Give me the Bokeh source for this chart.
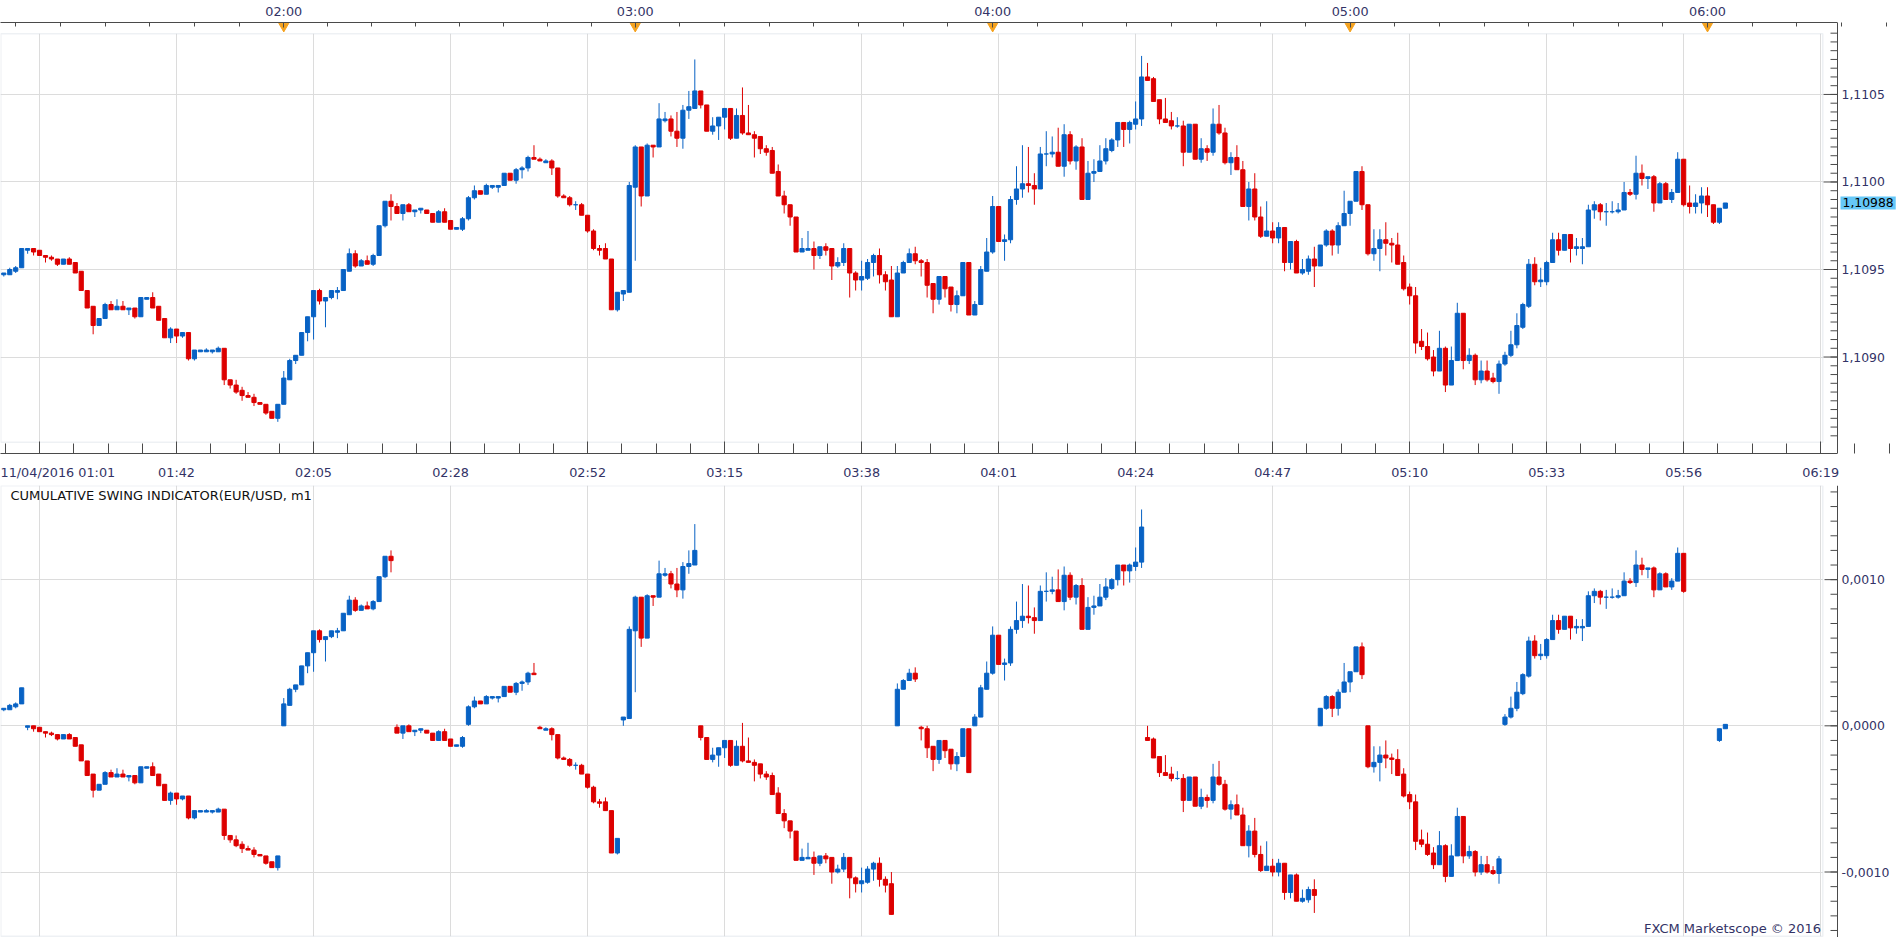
import numpy as np
from bokeh.plotting import figure
from bokeh.models import (ColumnDataSource, Range1d, LinearAxis, FixedTicker,
                          BoxAnnotation, Label, Span)
from bokeh.core.properties import value
from bokeh.layouts import column
from bokeh.embed import file_html
from bokeh.resources import INLINE

# ---------------- data (EUR/USD, m1 candles) ----------------
open_ = [
 1.10947, 1.10947, 1.10949, 1.10951, 1.10961, 1.10962, 1.10961, 1.10958, 1.10957, 1.10956,
 1.10953, 1.10956, 1.10954, 1.10949, 1.10938, 1.10929, 1.10918, 1.10922, 1.10930, 1.10927,
 1.10929, 1.10927, 1.10928, 1.10923, 1.10933, 1.10934, 1.10929, 1.10922, 1.10911, 1.10916,
 1.10912, 1.10914, 1.10899, 1.10903, 1.10903, 1.10903, 1.10903, 1.10905, 1.10887, 1.10884,
 1.10881, 1.10878, 1.10877, 1.10874, 1.10873, 1.10869, 1.10865, 1.10873, 1.10887, 1.10898,
 1.10901, 1.10914, 1.10923, 1.10938, 1.10932, 1.10934, 1.10937, 1.10938, 1.10949, 1.10959,
 1.10952, 1.10955, 1.10953, 1.10958, 1.10975, 1.10989, 1.10986, 1.10982, 1.10987, 1.10983,
 1.10984, 1.10984, 1.10982, 1.10977, 1.10983, 1.10978, 1.10973, 1.10973, 1.10979, 1.10991,
 1.10995, 1.10993, 1.10997, 1.10997, 1.10998, 1.11005, 1.11001, 1.11007, 1.11008, 1.11014,
 1.11013, 1.11011, 1.11012, 1.11008, 1.10992, 1.10991, 1.10987, 1.10987, 1.10981, 1.10972,
 1.10962, 1.10962, 1.10956, 1.10927, 1.10936, 1.10937, 1.10997, 1.11020, 1.10992, 1.11021,
 1.11020, 1.11035, 1.11036, 1.11029, 1.11025, 1.11041, 1.11042, 1.11052, 1.11044, 1.11029,
 1.11032, 1.11037, 1.11042, 1.11025, 1.11038, 1.11028, 1.11027, 1.11026, 1.11019, 1.11018,
 1.11006, 1.10992, 1.10987, 1.10980, 1.10960, 1.10961, 1.10962, 1.10958, 1.10963, 1.10962,
 1.10952, 1.10954, 1.10962, 1.10948, 1.10944, 1.10945, 1.10954, 1.10958, 1.10947, 1.10944,
 1.10923, 1.10948, 1.10954, 1.10959, 1.10955, 1.10954, 1.10942, 1.10933, 1.10946, 1.10940,
 1.10930, 1.10935, 1.10954, 1.10924, 1.10930, 1.10949, 1.10960, 1.10986, 1.10966, 1.10967,
 1.10990, 1.10996, 1.10999, 1.10998, 1.10996, 1.11016, 1.11016, 1.11017, 1.11009, 1.11027,
 1.11012, 1.11020, 1.10990, 1.11005, 1.11006, 1.11012, 1.11018, 1.11024, 1.11034, 1.11030,
 1.11033, 1.11036, 1.11060, 1.11059, 1.11047, 1.11036, 1.11035, 1.11032, 1.11032, 1.11017,
 1.11033, 1.11013, 1.11019, 1.11017, 1.11033, 1.11028, 1.11011, 1.11014, 1.11007, 1.10986,
 1.10996, 1.10980, 1.10969, 1.10972, 1.10968, 1.10974, 1.10954, 1.10966, 1.10948, 1.10949,
 1.10956, 1.10952, 1.10964, 1.10972, 1.10964, 1.10975, 1.10982, 1.10989, 1.11006, 1.10987,
 1.10959, 1.10962, 1.10967, 1.10965, 1.10964, 1.10954, 1.10940, 1.10935, 1.10909, 1.10906,
 1.10900, 1.10892, 1.10905, 1.10884, 1.10898, 1.10925, 1.10898, 1.10901, 1.10887, 1.10892,
 1.10888, 1.10886, 1.10896, 1.10901, 1.10907, 1.10917, 1.10929, 1.10953, 1.10943, 1.10943,
 1.10954, 1.10967, 1.10961, 1.10970, 1.10962, 1.10962, 1.10963, 1.10984, 1.10987, 1.10983,
 1.10983, 1.10983, 1.10984, 1.10994, 1.10993, 1.11005, 1.11002, 1.11003, 1.10988, 1.10999,
 1.10990, 1.10994, 1.11013, 1.10988, 1.10986, 1.10988, 1.10992, 1.10987, 1.10977, 1.10985,
]
high = [
 1.10948, 1.10951, 1.10952, 1.10962, 1.10962, 1.10962, 1.10961, 1.10958, 1.10958, 1.10956,
 1.10956, 1.10957, 1.10954, 1.10949, 1.10938, 1.10929, 1.10922, 1.10931, 1.10932, 1.10933,
 1.10932, 1.10928, 1.10928, 1.10934, 1.10934, 1.10937, 1.10929, 1.10922, 1.10917, 1.10916,
 1.10914, 1.10914, 1.10904, 1.10904, 1.10905, 1.10904, 1.10906, 1.10905, 1.10887, 1.10887,
 1.10883, 1.10880, 1.10879, 1.10874, 1.10873, 1.10869, 1.10873, 1.10892, 1.10899, 1.10901,
 1.10914, 1.10923, 1.10938, 1.10939, 1.10934, 1.10938, 1.10940, 1.10950, 1.10962, 1.10961,
 1.10956, 1.10958, 1.10959, 1.10975, 1.10989, 1.10993, 1.10988, 1.10987, 1.10988, 1.10984,
 1.10985, 1.10984, 1.10982, 1.10984, 1.10985, 1.10978, 1.10974, 1.10980, 1.10992, 1.10998,
 1.10995, 1.10999, 1.10998, 1.10998, 1.11005, 1.11005, 1.11008, 1.11009, 1.11015, 1.11021,
 1.11014, 1.11013, 1.11013, 1.11008, 1.10993, 1.10992, 1.10989, 1.10988, 1.10981, 1.10973,
 1.10964, 1.10965, 1.10956, 1.10937, 1.10938, 1.11000, 1.11021, 1.11020, 1.11022, 1.11021,
 1.11045, 1.11040, 1.11038, 1.11040, 1.11044, 1.11052, 1.11070, 1.11052, 1.11044, 1.11037,
 1.11037, 1.11042, 1.11042, 1.11042, 1.11054, 1.11044, 1.11029, 1.11026, 1.11021, 1.11020,
 1.11010, 1.10995, 1.10987, 1.10980, 1.10968, 1.10972, 1.10966, 1.10963, 1.10965, 1.10962,
 1.10957, 1.10965, 1.10962, 1.10949, 1.10955, 1.10956, 1.10959, 1.10962, 1.10949, 1.10952,
 1.10952, 1.10955, 1.10962, 1.10963, 1.10956, 1.10956, 1.10942, 1.10946, 1.10946, 1.10940,
 1.10938, 1.10954, 1.10954, 1.10932, 1.10952, 1.10968, 1.10992, 1.10986, 1.10970, 1.10992,
 1.11009, 1.11021, 1.11020, 1.11005, 1.11020, 1.11029, 1.11026, 1.11031, 1.11033, 1.11029,
 1.11021, 1.11025, 1.11012, 1.11013, 1.11021, 1.11025, 1.11025, 1.11034, 1.11034, 1.11035,
 1.11046, 1.11072, 1.11068, 1.11060, 1.11047, 1.11048, 1.11040, 1.11037, 1.11035, 1.11033,
 1.11033, 1.11025, 1.11021, 1.11042, 1.11044, 1.11031, 1.11017, 1.11021, 1.11012, 1.11000,
 1.11005, 1.10986, 1.10989, 1.10977, 1.10977, 1.10974, 1.10966, 1.10967, 1.10956, 1.10958,
 1.10963, 1.10964, 1.10973, 1.10973, 1.10977, 1.10995, 1.10989, 1.11006, 1.11009, 1.10987,
 1.10973, 1.10973, 1.10977, 1.10968, 1.10971, 1.10958, 1.10942, 1.10940, 1.10916, 1.10914,
 1.10904, 1.10915, 1.10906, 1.10906, 1.10931, 1.10925, 1.10905, 1.10902, 1.10898, 1.10898,
 1.10891, 1.10898, 1.10903, 1.10915, 1.10925, 1.10931, 1.10956, 1.10957, 1.10951, 1.10955,
 1.10971, 1.10971, 1.10970, 1.10970, 1.10968, 1.10968, 1.10987, 1.10989, 1.10988, 1.10988,
 1.10989, 1.10988, 1.11000, 1.10996, 1.11015, 1.11010, 1.11003, 1.11004, 1.11000, 1.11000,
 1.10996, 1.11017, 1.11013, 1.10998, 1.10993, 1.10997, 1.10997, 1.10987, 1.10985, 1.10988,
]
low = [
 1.10946, 1.10947, 1.10948, 1.10951, 1.10959, 1.10958, 1.10958, 1.10954, 1.10955, 1.10952,
 1.10953, 1.10953, 1.10948, 1.10938, 1.10928, 1.10913, 1.10918, 1.10922, 1.10927, 1.10927,
 1.10927, 1.10924, 1.10922, 1.10923, 1.10933, 1.10928, 1.10921, 1.10911, 1.10908, 1.10908,
 1.10911, 1.10898, 1.10898, 1.10903, 1.10903, 1.10902, 1.10903, 1.10884, 1.10882, 1.10879,
 1.10875, 1.10877, 1.10872, 1.10873, 1.10867, 1.10865, 1.10863, 1.10873, 1.10887, 1.10896,
 1.10901, 1.10909, 1.10910, 1.10930, 1.10917, 1.10933, 1.10933, 1.10938, 1.10949, 1.10951,
 1.10952, 1.10953, 1.10952, 1.10958, 1.10974, 1.10978, 1.10982, 1.10978, 1.10983, 1.10980,
 1.10982, 1.10982, 1.10977, 1.10977, 1.10977, 1.10973, 1.10973, 1.10972, 1.10978, 1.10990,
 1.10993, 1.10993, 1.10996, 1.10994, 1.10998, 1.11001, 1.10999, 1.11002, 1.11006, 1.11013,
 1.11012, 1.11011, 1.11004, 1.10991, 1.10991, 1.10986, 1.10984, 1.10981, 1.10971, 1.10961,
 1.10958, 1.10956, 1.10927, 1.10926, 1.10932, 1.10937, 1.10955, 1.10986, 1.10992, 1.11014,
 1.11020, 1.11034, 1.11026, 1.11020, 1.11019, 1.11036, 1.11042, 1.11042, 1.11029, 1.11027,
 1.11024, 1.11030, 1.11024, 1.11025, 1.11027, 1.11027, 1.11014, 1.11016, 1.11015, 1.11005,
 1.10992, 1.10982, 1.10975, 1.10960, 1.10960, 1.10961, 1.10950, 1.10956, 1.10958, 1.10944,
 1.10951, 1.10952, 1.10934, 1.10938, 1.10938, 1.10944, 1.10946, 1.10942, 1.10938, 1.10923,
 1.10923, 1.10948, 1.10954, 1.10953, 1.10946, 1.10934, 1.10925, 1.10930, 1.10934, 1.10926,
 1.10925, 1.10935, 1.10924, 1.10924, 1.10930, 1.10949, 1.10959, 1.10966, 1.10955, 1.10965,
 1.10987, 1.10991, 1.10994, 1.10987, 1.10996, 1.11009, 1.11014, 1.11009, 1.11003, 1.11010,
 1.11007, 1.10990, 1.10990, 1.11000, 1.11006, 1.11010, 1.11017, 1.11020, 1.11020, 1.11022,
 1.11030, 1.11032, 1.11058, 1.11046, 1.11033, 1.11034, 1.11030, 1.11031, 1.11009, 1.11017,
 1.11013, 1.11011, 1.11012, 1.11015, 1.11027, 1.11010, 1.11004, 1.11007, 1.10986, 1.10978,
 1.10978, 1.10968, 1.10969, 1.10965, 1.10965, 1.10949, 1.10950, 1.10948, 1.10947, 1.10947,
 1.10940, 1.10952, 1.10963, 1.10958, 1.10959, 1.10975, 1.10975, 1.10989, 1.10984, 1.10958,
 1.10955, 1.10949, 1.10958, 1.10954, 1.10953, 1.10938, 1.10930, 1.10902, 1.10904, 1.10898,
 1.10889, 1.10892, 1.10880, 1.10884, 1.10898, 1.10893, 1.10896, 1.10884, 1.10885, 1.10886,
 1.10885, 1.10879, 1.10895, 1.10900, 1.10905, 1.10916, 1.10928, 1.10941, 1.10940, 1.10941,
 1.10954, 1.10958, 1.10961, 1.10954, 1.10958, 1.10953, 1.10963, 1.10979, 1.10978, 1.10975,
 1.10982, 1.10982, 1.10984, 1.10992, 1.10990, 1.10998, 1.10996, 1.10983, 1.10988, 1.10990,
 1.10988, 1.10994, 1.10986, 1.10982, 1.10982, 1.10982, 1.10980, 1.10976, 1.10976, 1.10985,
]
close = [
 1.10948, 1.10950, 1.10951, 1.10962, 1.10962, 1.10960, 1.10958, 1.10957, 1.10956, 1.10953,
 1.10956, 1.10953, 1.10948, 1.10938, 1.10928, 1.10918, 1.10922, 1.10930, 1.10927, 1.10929,
 1.10927, 1.10928, 1.10923, 1.10934, 1.10934, 1.10928, 1.10921, 1.10911, 1.10916, 1.10912,
 1.10914, 1.10899, 1.10904, 1.10904, 1.10904, 1.10904, 1.10905, 1.10887, 1.10884, 1.10880,
 1.10878, 1.10877, 1.10874, 1.10873, 1.10868, 1.10865, 1.10873, 1.10888, 1.10898, 1.10901,
 1.10914, 1.10923, 1.10938, 1.10932, 1.10934, 1.10938, 1.10938, 1.10950, 1.10959, 1.10952,
 1.10955, 1.10953, 1.10958, 1.10975, 1.10989, 1.10986, 1.10982, 1.10987, 1.10983, 1.10984,
 1.10985, 1.10982, 1.10977, 1.10983, 1.10977, 1.10973, 1.10974, 1.10979, 1.10991, 1.10995,
 1.10993, 1.10998, 1.10998, 1.10998, 1.11005, 1.11001, 1.11007, 1.11008, 1.11014, 1.11013,
 1.11012, 1.11012, 1.11008, 1.10992, 1.10991, 1.10987, 1.10987, 1.10981, 1.10972, 1.10962,
 1.10961, 1.10956, 1.10927, 1.10937, 1.10938, 1.10998, 1.11020, 1.10992, 1.11021, 1.11020,
 1.11036, 1.11036, 1.11029, 1.11025, 1.11041, 1.11043, 1.11052, 1.11044, 1.11029, 1.11032,
 1.11037, 1.11042, 1.11025, 1.11038, 1.11028, 1.11027, 1.11025, 1.11019, 1.11017, 1.11005,
 1.10992, 1.10987, 1.10980, 1.10960, 1.10962, 1.10962, 1.10958, 1.10963, 1.10961, 1.10952,
 1.10954, 1.10962, 1.10948, 1.10944, 1.10946, 1.10954, 1.10958, 1.10947, 1.10943, 1.10923,
 1.10948, 1.10954, 1.10959, 1.10955, 1.10954, 1.10941, 1.10933, 1.10946, 1.10939, 1.10930,
 1.10935, 1.10954, 1.10924, 1.10930, 1.10950, 1.10960, 1.10986, 1.10966, 1.10967, 1.10990,
 1.10996, 1.10999, 1.10998, 1.10996, 1.11016, 1.11016, 1.11017, 1.11009, 1.11027, 1.11012,
 1.11020, 1.10990, 1.11005, 1.11006, 1.11012, 1.11019, 1.11024, 1.11034, 1.11030, 1.11034,
 1.11036, 1.11060, 1.11058, 1.11046, 1.11036, 1.11034, 1.11032, 1.11032, 1.11017, 1.11033,
 1.11013, 1.11019, 1.11017, 1.11033, 1.11028, 1.11011, 1.11014, 1.11007, 1.10986, 1.10996,
 1.10980, 1.10969, 1.10972, 1.10968, 1.10974, 1.10954, 1.10966, 1.10948, 1.10950, 1.10956,
 1.10952, 1.10964, 1.10972, 1.10964, 1.10975, 1.10982, 1.10989, 1.11006, 1.10987, 1.10959,
 1.10962, 1.10967, 1.10965, 1.10964, 1.10953, 1.10939, 1.10935, 1.10908, 1.10906, 1.10899,
 1.10892, 1.10905, 1.10884, 1.10898, 1.10925, 1.10898, 1.10901, 1.10887, 1.10892, 1.10887,
 1.10886, 1.10896, 1.10901, 1.10907, 1.10918, 1.10930, 1.10953, 1.10943, 1.10944, 1.10954,
 1.10967, 1.10961, 1.10970, 1.10962, 1.10963, 1.10963, 1.10984, 1.10987, 1.10983, 1.10983,
 1.10983, 1.10984, 1.10994, 1.10993, 1.11005, 1.11002, 1.11003, 1.10988, 1.10999, 1.10990,
 1.10994, 1.11013, 1.10987, 1.10986, 1.10988, 1.10992, 1.10987, 1.10977, 1.10985, 1.10988,
]

# Cumulative swing indicator: swing segments (first bar, last bar, reference level)
seg_start = [0, 4, 47, 66, 78, 90, 104, 117, 150, 154, 163, 192, 221, 229, 252, 288]
seg_end   = [3, 46, 65, 77, 89, 103, 116, 149, 153, 162, 191, 220, 228, 251, 282, 289]
seg_base  = [1.10936, 1.10962, 1.10873, 1.10987, 1.10978, 1.11014, 1.10932, 1.11052,
             1.10923, 1.10956, 1.10924, 1.11068, 1.10952, 1.10987, 1.10895, 1.10987]

bottom_labels = ["11/04/2016 01:01", "01:42", "02:05", "02:28", "02:52", "03:15", "03:38",
                 "04:01", "04:24", "04:47", "05:10", "05:33", "05:56", "06:19"]
bottom_label_pos = [6, 29, 52, 75, 98, 121, 144, 167, 190, 213, 236, 259, 282, 305]
hour_labels = ["02:00", "03:00", "04:00", "05:00", "06:00"]
hour_pos = [47, 106, 166, 226, 286]
price_ticks = [1.1090, 1.1095, 1.1100, 1.1105]
ind_ticks = [-0.0010, 0.0, 0.0010]
last_price = 1.10988
last_price_text = "1,10988"

# ---------------- styling ----------------
FONT = "DejaVu Sans"
TXT = "#333366"
LINE = "#4a4a4a"
GRID = "#dcdcdc"
BORDER = "#c6d1dc"
BLUE = "#0862c4"
RED = "#dd0000"
ORANGE = "#f5a21e"

PX = 5.957                 # pixels per bar
X0 = -0.554                # left edge of the page
X1 = X0 + 1903 / PX        # right edge of the page
XA = X0 + 1837 / PX        # price-axis line
BORDER_R = 305.35
B1_TOP, B1_BOT = 1.110847, 1.108513
B2_TOP, B2_BOT = 0.001642, -0.001439

o = np.array(open_); h = np.array(high); l = np.array(low); c = np.array(close)
idx = np.arange(len(o))
colors = np.where(c >= o, BLUE, RED)

src1 = ColumnDataSource(dict(x=idx, high=h, low=l, top=np.maximum(o, c),
                             bottom=np.minimum(o, c), color=colors))

xs, hs, ls, ts, bs, cs = [], [], [], [], [], []
for s, e, b in zip(seg_start, seg_end, seg_base):
    sl = slice(s, e + 1)
    xs += list(idx[sl]); hs += list(h[sl] - b); ls += list(l[sl] - b)
    ts += list(np.maximum(o[sl], c[sl]) - b); bs += list(np.minimum(o[sl], c[sl]) - b)
    cs += list(colors[sl])
src2 = ColumnDataSource(dict(x=xs, high=hs, low=ls, top=ts, bottom=bs, color=cs))


def style_axis(ax, major_in, minor_in, standoff, size):
    ax.axis_line_color = LINE
    ax.axis_line_width = 1
    ax.major_tick_line_color = LINE
    ax.minor_tick_line_color = LINE
    ax.major_tick_in = major_in
    ax.major_tick_out = 0
    ax.minor_tick_in = minor_in
    ax.minor_tick_out = 0
    ax.major_label_standoff = standoff
    ax.major_label_text_font = FONT
    ax.major_label_text_font_size = size
    ax.major_label_text_color = TXT
    ax.bounds = (X0, XA)


def cover(p, **kw):
    p.add_layout(BoxAnnotation(fill_color="white", fill_alpha=1.0, line_color=None,
                               level="underlay", **kw))


def candles(p, src):
    p.segment(x0="x", y0="low", x1="x", y1="high", source=src, line_color="color", line_width=1)
    p.vbar(x="x", width=0.7, top="top", bottom="bottom", source=src,
           fill_color="color", line_color="color", line_width=1)


def price_scale(p, majors, minors, major_len, minor_len):
    """Right-hand value scale: axis line, inward ticks and labels at the scale line."""
    p.add_layout(Span(location=XA, dimension="height", line_color=LINE, line_width=1))
    p.segment(x0=[XA - major_len / PX] * len(majors), y0=majors,
              x1=[XA] * len(majors), y1=majors, line_color=LINE, line_width=1)
    p.segment(x0=[XA - minor_len / PX] * len(minors), y0=minors,
              x1=[XA] * len(minors), y1=minors, line_color=LINE, line_width=1)
    labels = [("%.4f" % t).replace(".", ",") for t in majors]
    p.text(x=[XA + 4 / PX] * len(majors), y=majors, text=labels, text_align="left",
           text_baseline="middle", text_font=value(FONT), text_font_size="12.4px",
           text_color=TXT)


xr = Range1d(X0, X1)

# ---------------- price panel ----------------
p1 = figure(frame_width=1903, frame_height=431, x_range=xr, y_range=Range1d(1.108449, 1.110911),
            output_backend="svg", toolbar_location=None, y_axis_location=None,
            x_axis_location="below", min_border=0, min_border_left=0, min_border_right=0,
            min_border_top=22, min_border_bottom=32, background_fill_color="white",
            border_fill_color="white", outline_line_color=None)

axb = p1.below[0]
mid_ticks = [pos + 5.75 * k for pos in [bottom_label_pos[0] - 23] + bottom_label_pos for k in (1, 2, 3)]
axb.ticker = FixedTicker(ticks=bottom_label_pos, minor_ticks=mid_ticks)
axb.major_label_overrides = dict(zip(bottom_label_pos, bottom_labels))
style_axis(axb, 12, 10, 11, "12.8px")

hours_ext = [hour_pos[0] - 60] + hour_pos + [hour_pos[-1] + 60]
eighths = []
for a, b in zip(hours_ext[:-1], hours_ext[1:]):
    eighths += [a + k * (b - a) / 8 for k in range(1, 8)]
ax_top = LinearAxis(ticker=FixedTicker(ticks=hour_pos, minor_ticks=eighths))
ax_top.major_label_overrides = dict(zip(hour_pos, hour_labels))
style_axis(ax_top, 5, 4, 4, "12.8px")
p1.add_layout(ax_top, "above")

p1.xgrid.ticker = FixedTicker(ticks=bottom_label_pos)
p1.ygrid.ticker = FixedTicker(ticks=price_ticks)
p1.xgrid.grid_line_color = GRID
p1.ygrid.grid_line_color = GRID

cover(p1, left=X0 - 5, right=X1 + 5, bottom=B1_TOP, top=1.12)
cover(p1, left=X0 - 5, right=X1 + 5, bottom=1.10, top=B1_BOT)
cover(p1, left=BORDER_R, right=X1 + 5, bottom=1.10, top=1.12)
p1.add_layout(BoxAnnotation(left=-0.5, right=BORDER_R, bottom=B1_BOT, top=B1_TOP,
                            fill_alpha=0, line_color=BORDER, line_width=1.5, level="underlay"))

candles(p1, src1)
p1.scatter(x=hour_pos, y=[1.11089] * len(hour_pos), marker="inverted_triangle", size=10,
           fill_color=ORANGE, line_color=ORANGE)

minor_p = [round(1.1085 + 0.00005 * k, 5) for k in range(1, 48)]
price_scale(p1, price_ticks, minor_p, 14, 7)
p1.add_layout(Label(x=XA + 3 / PX, y=last_price, text=last_price_text, text_align="left",
                    text_baseline="middle", text_font=FONT, text_font_size="12.4px",
                    text_color="black", background_fill_color="#66c8f8",
                    background_fill_alpha=1.0, padding=2))

# ---------------- indicator panel ----------------
p2 = figure(frame_width=1903, frame_height=452, x_range=xr, y_range=Range1d(-0.001448, 0.001644),
            output_backend="svg", toolbar_location=None, y_axis_location=None,
            x_axis_location=None, min_border=0, min_border_left=0, min_border_right=0,
            min_border_top=0, min_border_bottom=0, background_fill_color="white",
            border_fill_color="white", outline_line_color=None)

p2.xgrid.ticker = FixedTicker(ticks=bottom_label_pos)
p2.ygrid.ticker = FixedTicker(ticks=ind_ticks)
p2.xgrid.grid_line_color = GRID
p2.ygrid.grid_line_color = GRID

cover(p2, left=BORDER_R, right=X1 + 5, bottom=-0.01, top=0.01)
cover(p2, left=X0 - 5, right=X1 + 5, bottom=-0.01, top=B2_BOT)
p2.add_layout(BoxAnnotation(left=-0.5, right=BORDER_R, bottom=B2_BOT, top=B2_TOP,
                            fill_alpha=0, line_color=BORDER, line_width=1.5, level="underlay"))

candles(p2, src2)

minor_i = [round(-0.0015 + 0.0001 * k, 4) for k in range(1, 32)]
price_scale(p2, ind_ticks, minor_i, 13, 7)

p2.add_layout(Label(x=1.12, y=0.001573, text="CUMULATIVE SWING INDICATOR(EUR/USD, m1",
                    text_align="left", text_baseline="middle", text_font=FONT,
                    text_font_size="13px", text_color="#111111"))
p2.add_layout(Label(x=305.05, y=-0.001386, text="FXCM Marketscope \u00a9 2016",
                    text_align="right", text_baseline="middle", text_font=FONT,
                    text_font_size="13px", text_color=TXT))

layout = column(p1, p2, spacing=0)
open("out.html", "w").write(file_html(layout, INLINE, title="EUR/USD m1"))
